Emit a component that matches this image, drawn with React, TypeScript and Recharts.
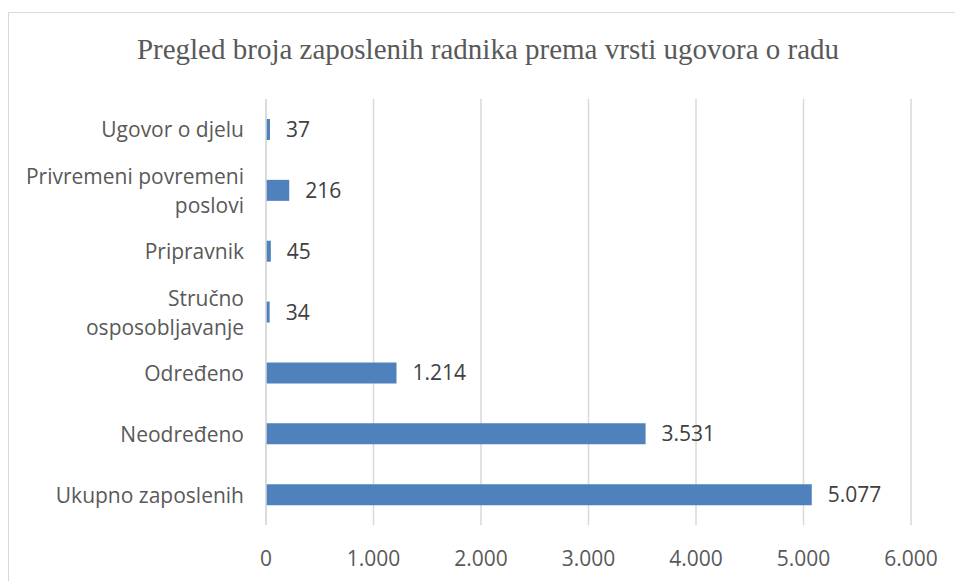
import React from 'react';
import { BarChart, Bar, XAxis, YAxis, CartesianGrid, LabelList } from 'recharts';

const categories = [
  'Ugovor o djelu',
  'Privremeni povremeni poslovi',
  'Pripravnik',
  'Stručno osposobljavanje',
  'Određeno',
  'Neodređeno',
  'Ukupno zaposlenih',
];
const values = [37, 216, 45, 34, 1214, 3531, 5077];
const categoryLines: Record<string, string[]> = {
  'Privremeni povremeni poslovi': ['Privremeni povremeni', 'poslovi'],
  'Stručno osposobljavanje': ['Stručno', 'osposobljavanje'],
};
const xTicks = [0, 1000, 2000, 3000, 4000, 5000, 6000];
const title = 'Pregled broja zaposlenih radnika prema vrsti ugovora o radu';

const data = categories.map((c, i) => ({ name: c, value: values[i] }));

const fmt = (v: number) => v.toString().replace(/\B(?=(\d{3})+(?!\d))/g, '.');

const FONT = '"Open Sans", sans-serif';
const TEXT = '#595959';

const YTick = (props: any) => {
  const { x, y, payload } = props;
  const lines = categoryLines[payload.value] || [payload.value];
  const lh = 29;
  const start = -((lines.length - 1) * lh) / 2;
  return (
    <text x={x - 14} y={y} textAnchor="end" fill={TEXT} fontSize={21} fontFamily={FONT}>
      {lines.map((l: string, i: number) => (
        <tspan key={i} x={x - 14} y={y + start + i * lh} dominantBaseline="central">
          {l}
        </tspan>
      ))}
    </text>
  );
};

const XTick = (props: any) => {
  const { x, y, payload } = props;
  return (
    <text x={x} y={y + 25} textAnchor="middle" dominantBaseline="central" fill={TEXT} fontSize={21} fontFamily={FONT}>
      {fmt(payload.value)}
    </text>
  );
};

export default function App() {
  return (
    <div style={{ position: 'absolute', left: 0, top: 0, width: 955, height: 581, overflow: 'hidden', background: '#fff' }}>
      <div style={{ position: 'absolute', left: 8, top: 12, width: 1100, height: 1100, border: '1.5px solid #d9d9d9', boxSizing: 'border-box' }} />
      <div style={{ position: 'absolute', left: 0, width: 976, top: 33, textAlign: 'center', fontFamily: '"Liberation Serif", serif', fontSize: 29, color: TEXT, whiteSpace: 'nowrap' }}>
        {title}
      </div>
      <div style={{ position: 'absolute', left: 0, top: 0 }}>
        <BarChart
          width={955}
          height={581}
          data={data}
          layout="vertical"
          margin={{ top: 99, right: 44, bottom: 0, left: 0 }}
        >
          <CartesianGrid horizontal={false} stroke="#d9d9d9" strokeWidth={1.5} />
          <XAxis
            type="number"
            domain={[0, 6000]}
            ticks={xTicks}
            axisLine={false}
            tickLine={false}
            height={56}
            tick={<XTick />}
            interval={0}
          />
          <YAxis
            type="category"
            dataKey="name"
            width={266}
            axisLine={{ stroke: '#d9d9d9', strokeWidth: 1.5 }}
            tickLine={false}
            tick={<YTick />}
            interval={0}
          />
          <Bar dataKey="value" fill="#4f81bd" barSize={21} isAnimationActive={false}>
            <LabelList
              dataKey="value"
              position="right"
              offset={16}
              formatter={(v: any) => fmt(Number(v))}
              style={{ fill: '#404040', fontSize: 21, fontFamily: FONT }}
            />
          </Bar>
        </BarChart>
      </div>
    </div>
  );
}
